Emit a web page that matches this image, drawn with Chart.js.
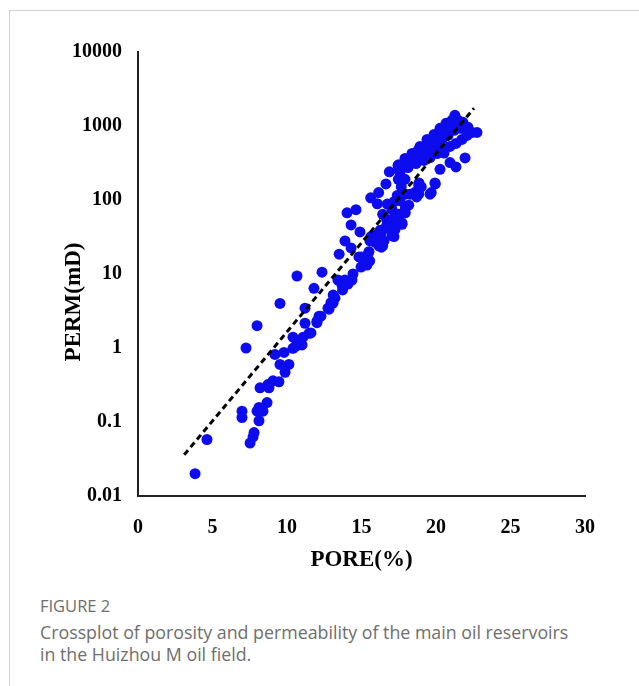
<!DOCTYPE html>
<html>
<head>
<meta charset="utf-8">
<script src="https://cdn.jsdelivr.net/npm/chart.js@4.4.1/dist/chart.umd.min.js"></script>
<style>
  html, body { margin: 0; padding: 0; background: #fff; }
  body { width: 639px; height: 686px; position: relative; overflow: hidden; }
  #frame {
    position: absolute; left: 9px; top: 10px; right: 0; bottom: 0;
    border-top: 1px solid #d2d2d2; border-left: 1px solid #d2d2d2;
  }
  #chart-wrap { position: absolute; left: 0; top: 2px; width: 639px; height: 590px; }
  #caption {
    position: absolute; left: 40px; top: 594px; width: 548px;
    font-family: "Open Sans", "Noto Sans", sans-serif; color: #6e6e6e;
  }
  #caption .fig { font-size: 16.5px; line-height: 24px; }
  #caption .txt { font-size: 17.8px; line-height: 22px; margin-top: 3px; }
</style>
</head>
<body>
<div id="frame"></div>
<div id="chart-wrap"><canvas id="crossplot" width="639" height="590"></canvas></div>
<div id="caption">
  <div class="fig">FIGURE 2</div>
  <div class="txt">Crossplot of porosity and permeability of the main oil reservoirs in the Huizhou M oil field.</div>
</div>
<script>
// porosity (%) and permeability (mD)
const poreValues = [
  3.83, 4.63, 6.98, 6.98, 7.25, 7.99, 9.53, 11.81,
  7.52, 7.72, 7.79, 7.99, 8.12, 8.39, 8.12, 8.66,
  8.19, 8.72, 9.06, 9.46, 8.79, 9.53, 10.13, 9.87,
  9.19, 9.8, 10.4, 10.4, 10.81, 11.08, 11.48, 11.61,
  11.01, 10.58, 11.21, 11.21, 12.15, 12.01, 12.82, 13.09,
  10.67, 12.35, 13.22, 13.1, 12.95, 12.75, 12.28, 12.01,
  13.42, 13.89, 14.36, 14.43, 13.69, 14.09, 13.73, 13.5,
  13.89, 14.3, 14.3, 14.9, 14.03, 14.63, 15.5, 15.41,
  15.0, 14.83, 15.55, 15.37, 14.97, 15.57, 15.64, 16.04,
  16.26, 16.17, 16.4, 16.64, 16.82, 17.18, 17.58, 16.73, 17.25,
  15.62, 16.15, 16.64, 16.87, 17.5, 17.54, 17.67, 17.67,
  16.06, 16.73, 17.05, 17.18, 17.4, 17.58, 17.94, 17.94,
  18.17, 18.26, 18.57, 18.84, 18.84, 19.01, 16.42, 16.69,
  17.13, 17.5, 17.72, 16.78, 16.33, 16.24, 15.89, 16.51,
  17.05, 16.42, 19.6, 19.95, 20.27, 20.94, 21.34, 18.17,
  18.44, 18.93, 19.15, 19.37, 20.18, 20.54, 17.72, 16.33,
  17.45, 17.92, 18.39, 18.93, 19.4, 19.87, 20.27, 20.67, 21.07, 21.48, 21.81, 22.15, 22.42,
  17.58, 18.12, 18.66, 19.19, 19.6, 20.07, 20.47, 20.94, 21.34, 21.74, 22.08,
  17.85, 18.39, 18.93, 19.46, 20.0, 20.4, 20.81, 21.21, 21.61, 22.01,
  19.73, 19.33, 20.54, 20.94, 21.34, 20.13, 18.52, 18.79,
  21.95, 19.93, 19.68, 18.86, 17.92, 17.47, 18.7, 17.94, 22.75, 21.27
];
const permValues = [
  0.02, 0.058, 0.14, 0.115, 1.0, 2.0, 4.0, 6.4,
  0.052, 0.063, 0.072, 0.14, 0.157, 0.14, 0.104, 0.183,
  0.29, 0.32, 0.36, 0.35, 0.29, 0.6, 0.6, 0.47,
  0.82, 0.87, 1.4, 0.99, 1.16, 1.4, 1.58, 1.6,
  1.1, 1.05, 2.16, 3.45, 2.69, 2.2, 3.35, 4.04,
  9.4, 10.6, 4.72, 5.2, 4.1, 3.45, 2.69, 2.3,
  8.3, 8.3, 8.3, 10, 7.1, 7.3, 6.1, 18.5,
  28, 22.5, 46, 37, 67, 74, 20, 18,
  17, 17, 15, 13.2, 12.4, 28, 32, 34,
  39, 24, 25.5, 43, 46, 32, 49, 51, 40,
  107, 126, 165, 240, 300, 245, 183, 150,
  89, 88, 74, 95, 115, 98, 78, 67,
  85, 120, 126, 120, 156, 150, 64, 55,
  55, 64, 49, 42, 36, 30, 27, 28,
  33, 24, 120, 165, 260, 320, 280, 300,
  340, 370, 400, 440, 450, 430, 47, 23,
  292, 364, 425, 530, 659, 770, 929, 1086, 1194, 1194, 1122, 959, 820,
  235, 275, 311, 342, 375, 425, 482, 530, 582, 659, 746,
  311, 342, 412, 467, 546, 659, 746, 873, 929, 873,
  600, 530, 873, 989, 1020, 680, 375, 467,
  370, 170, 126, 170, 190, 190, 110, 120, 820, 1395
];

// dashed trend line end points
const fitPore = [3.1, 22.55];
const fitPerm = [0.036, 1740];

const xTicks = [0, 5, 10, 15, 20, 25, 30];
const yTicks = [0.01, 0.1, 1, 10, 100, 1000, 10000];

const serifFamily = "'Liberation Serif', 'Times New Roman', serif";
const tickFont = { family: serifFamily, weight: "bold", size: 20 };

const yTitlePlugin = {
  id: "yTitle",
  afterDraw(chart) {
    const ctx = chart.ctx;
    ctx.save();
    ctx.translate(74, 300);
    ctx.rotate(-Math.PI / 2);
    ctx.font = "bold 23px " + serifFamily;
    ctx.fillStyle = "#000";
    ctx.textAlign = "center";
    ctx.textBaseline = "middle";
    ctx.fillText("PERM(mD)", 0, 0);
    ctx.restore();
  }
};

new Chart(document.getElementById("crossplot"), {
  type: "scatter",
  data: {
    datasets: [
      {
        type: "line",
        data: fitPore.map((x, i) => ({ x, y: fitPerm[i] })),
        borderColor: "#000",
        borderWidth: 3,
        borderDash: [6, 4],
        pointRadius: 0,
        fill: false,
      },
      {
        data: poreValues.map((x, i) => ({ x, y: permValues[i] })),
        backgroundColor: "#0c0cee",
        borderWidth: 0,
        pointRadius: 5.5,
      },
    ],
  },
  options: {
    responsive: false,
    animation: false,
    layout: { padding: { left: 0, right: 54, top: 50, bottom: 0 } },
    plugins: { legend: { display: false }, tooltip: { enabled: false } },
    scales: {
      x: {
        type: "linear",
        min: 0,
        max: 30,
        afterBuildTicks: (axis) => { axis.ticks = xTicks.map((v) => ({ value: v })); },
        afterFit: (axis) => { axis.height = 96; },
        grid: { display: false, drawTicks: false },
        border: { display: true, color: "#222", width: 2 },
        ticks: { color: "#000", font: tickFont, padding: 20, maxRotation: 0 },
        title: {
          display: true,
          text: "PORE(%)",
          color: "#000",
          font: { family: serifFamily, weight: "bold", size: 23 },
          padding: { top: 0, bottom: 18 },
        },
      },
      y: {
        type: "logarithmic",
        min: 0.01,
        max: 10000,
        afterBuildTicks: (axis) => { axis.ticks = yTicks.map((v) => ({ value: v })); },
        afterFit: (axis) => { axis.width = 138; },
        grid: { display: false, drawTicks: false },
        border: { display: true, color: "#222", width: 2 },
        ticks: {
          color: "#000",
          font: tickFont,
          padding: 16,
          callback: (v) => String(v),
        },
      },
    },
  },
  plugins: [yTitlePlugin],
});
</script>
</body>
</html>
